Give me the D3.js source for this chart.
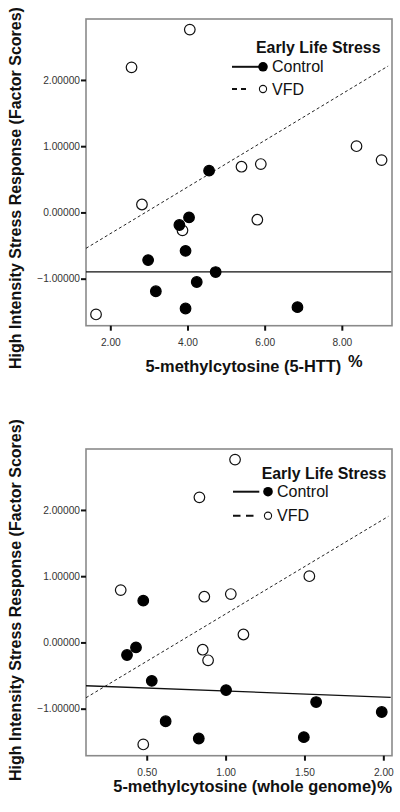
<!DOCTYPE html>
<html>
<head>
<meta charset="utf-8">
<script src="https://cdn.jsdelivr.net/npm/d3@7/dist/d3.min.js"></script>
<style>
  html, body { margin: 0; padding: 0; background: #fff; }
  svg { display: block; font-family: "Liberation Sans", Arial, sans-serif; }
</style>
</head>
<body>
<svg id="chart" width="400" height="812"></svg>
<script>
// ---------- DATA ----------
const groups = ["Control", "VFD"];
const legendTitle = "Early Life Stress";
const yAxisTitle = "High Intensity Stress Response (Factor Scores)";
const yTicks = [-1, 0, 1, 2];

// Factor scores (same subjects in both panels)
const controlScores = [0.63, -0.075, -0.19, -0.58, -0.72, -0.90, -1.05, -1.19, -1.45, -1.43];
const vfdScores     = [2.76, 2.19, 0.69, 0.73, 1.00, 0.79, 0.12, -0.27, -0.11, -1.54];

// Panel 1: 5-HTT methylation (%)
const controlHTT = [4.56, 4.04, 3.79, 3.95, 2.98, 4.73, 4.24, 3.18, 3.95, 6.85];
const vfdHTT     = [4.06, 2.55, 5.40, 5.90, 8.38, 9.03, 2.82, 3.87, 5.81, 1.63];
const httTicks = [2, 4, 6, 8];
const httTitle = "5-methylcytosine (5-HTT)";
// fit lines [x1, y1, x2, y2]
const httControlFit = [1.37, -0.897, 9.28, -0.897];
const httVfdFit     = [1.37, -0.542, 9.20, 2.21];

// Panel 2: whole genome methylation (%)
const controlGenome = [0.478, 0.432, 0.375, 0.532, 1.003, 1.574, 1.99, 0.62, 0.83, 1.496];
const vfdGenome     = [1.06, 0.834, 0.865, 1.033, 1.531, 0.335, 1.113, 0.889, 0.855, 0.478];
const genomeTicks = [0.5, 1.0, 1.5, 2.0];
const genomeTitle = "5-methylcytosine (whole genome)";
const genomeControlFit = [0.115, -0.654, 2.047, -0.829];
const genomeVfdFit     = [0.115, -0.835, 2.032, 1.903];

const yDomain = [-1.71, 2.92];

// ---------- DRAW ----------
const svg = d3.select("#chart");

function panel(cfg) {
  const g = svg.append("g");
  const x = d3.scaleLinear().domain(cfg.xDomain).range([cfg.left, cfg.right]);
  const y = d3.scaleLinear().domain(yDomain).range([cfg.bottom, cfg.top]);

  // frame
  g.append("rect")
    .attr("x", cfg.left).attr("y", cfg.top)
    .attr("width", cfg.right - cfg.left).attr("height", cfg.bottom - cfg.top)
    .attr("fill", "none").attr("stroke", "#8a8a8a").attr("stroke-width", 1.6);

  // y axis
  const yAxis = d3.axisLeft(y).tickValues(yTicks).tickSize(5).tickPadding(1)
    .tickFormat(d3.format(".5f"));
  const ya = g.append("g").attr("transform", `translate(${cfg.left},0)`).call(yAxis);
  ya.select(".domain").remove();
  ya.selectAll(".tick line").attr("stroke", "#111").attr("stroke-width", 2);
  ya.selectAll(".tick text").attr("font-size", 10.2).attr("fill", "#333")
    .attr("font-family", "Liberation Sans, Arial, sans-serif");

  // x axis
  const xAxis = d3.axisBottom(x).tickValues(cfg.xTicks).tickSize(5).tickPadding(8)
    .tickFormat(d3.format(".2f"));
  const xa = g.append("g").attr("transform", `translate(0,${cfg.bottom})`).call(xAxis);
  xa.select(".domain").remove();
  xa.selectAll(".tick line").attr("stroke", "#111").attr("stroke-width", 2);
  xa.selectAll(".tick text").attr("font-size", 10.2).attr("fill", "#333")
    .attr("font-family", "Liberation Sans, Arial, sans-serif");

  // fit lines
  const clip = "clip" + cfg.id;
  g.append("clipPath").attr("id", clip).append("rect")
    .attr("x", cfg.left).attr("y", cfg.top)
    .attr("width", cfg.right - cfg.left).attr("height", cfg.bottom - cfg.top);
  const lineG = g.append("g").attr("clip-path", `url(#${clip})`);
  lineG.append("line")
    .attr("x1", x(cfg.controlFit[0])).attr("y1", y(cfg.controlFit[1]))
    .attr("x2", x(cfg.controlFit[2])).attr("y2", y(cfg.controlFit[3]))
    .attr("stroke", "#111").attr("stroke-width", 1.3);
  lineG.append("line")
    .attr("x1", x(cfg.vfdFit[0])).attr("y1", y(cfg.vfdFit[1]))
    .attr("x2", x(cfg.vfdFit[2])).attr("y2", y(cfg.vfdFit[3]))
    .attr("stroke", "#222").attr("stroke-width", 1).attr("stroke-dasharray", "3,2.5");

  // points
  const ctrl = cfg.controlX.map((v, i) => ({x: v, y: controlScores[i]}));
  const vfd = cfg.vfdX.map((v, i) => ({x: v, y: vfdScores[i]}));
  g.append("g").selectAll("circle").data(vfd).join("circle")
    .attr("cx", d => x(d.x)).attr("cy", d => y(d.y)).attr("r", 5.3)
    .attr("fill", "#fff").attr("stroke", "#111").attr("stroke-width", 1.2);
  g.append("g").selectAll("circle").data(ctrl).join("circle")
    .attr("cx", d => x(d.x)).attr("cy", d => y(d.y)).attr("r", 5.3)
    .attr("fill", "#000").attr("stroke", "#000").attr("stroke-width", 1.2);

  // legend
  const L = cfg.legend;
  g.append("text").attr("x", L.titleX).attr("y", L.titleY)
    .attr("font-size", 15.9).attr("font-weight", "bold").attr("fill", "#111")
    .text(legendTitle);
  // Control
  g.append("line").attr("x1", L.lineX1).attr("x2", L.lineX2).attr("y1", L.row1Y).attr("y2", L.row1Y)
    .attr("stroke", "#111").attr("stroke-width", 2);
  g.append("circle").attr("cx", L.circX).attr("cy", L.row1Y).attr("r", 4.8).attr("fill", "#000");
  g.append("text").attr("x", L.textX).attr("y", L.row1Y + 5.6)
    .attr("font-size", 16).attr("fill", "#111").text(groups[0]);
  // VFD
  g.append("line").attr("x1", L.lineX1).attr("x2", L.dashX2).attr("y1", L.row2Y).attr("y2", L.row2Y)
    .attr("stroke", "#111").attr("stroke-width", 2).attr("stroke-dasharray", L.dash);
  g.append("circle").attr("cx", L.circX).attr("cy", L.row2Y).attr("r", 3.6)
    .attr("fill", "#fff").attr("stroke", "#111").attr("stroke-width", 1.1);
  g.append("text").attr("x", L.textX).attr("y", L.row2Y + 5.6)
    .attr("font-size", 16).attr("fill", "#111").text(groups[1]);

  // x title
  const xt = g.append("text").attr("x", cfg.xTitleX).attr("y", cfg.xTitleY)
    .attr("font-size", 16.4).attr("font-weight", "bold").attr("fill", "#111")
    .text(cfg.xTitle);
  const pctX = cfg.pctX != null ? cfg.pctX : cfg.xTitleX + xt.node().getComputedTextLength() + 0.5;
  g.append("text").attr("x", pctX).attr("y", cfg.pctY)
    .attr("font-size", cfg.pctSize).attr("font-weight", "bold").attr("fill", "#111")
    .text("%");

  // y title
  g.append("text")
    .attr("transform", `translate(20.5,${cfg.yTitleCY}) rotate(-90)`)
    .attr("text-anchor", "middle")
    .attr("font-size", 16).attr("font-weight", "bold").attr("fill", "#111")
    .text(yAxisTitle);
}

panel({
  id: 1, left: 86, right: 392, top: 19, bottom: 325.7,
  xDomain: [1.37, 9.30], xTicks: httTicks,
  controlX: controlHTT, vfdX: vfdHTT,
  controlFit: httControlFit, vfdFit: httVfdFit,
  legend: {titleX: 256, titleY: 53.3, lineX1: 232, lineX2: 260, dashX2: 247, dash: "5,4",
           circX: 263, textX: 272, row1Y: 66.8, row2Y: 89},
  xTitle: httTitle, xTitleX: 145.5, xTitleY: 371.7, pctX: 348, pctY: 366.5, pctSize: 16.4,
  yTitleCY: 188
});

panel({
  id: 2, left: 86, right: 392, top: 449, bottom: 755.7,
  xDomain: [0.115, 2.055], xTicks: genomeTicks,
  controlX: controlGenome, vfdX: vfdGenome,
  controlFit: genomeControlFit, vfdFit: genomeVfdFit,
  legend: {titleX: 261.7, titleY: 479, lineX1: 233, lineX2: 259.3, dashX2: 254, dash: "7.5,5.5",
           circX: 268, textX: 277, row1Y: 491.7, row2Y: 515.7},
  xTitle: genomeTitle, xTitleX: 113.3, xTitleY: 791.7, pctX: null, pctY: 792.5, pctSize: 17,
  yTitleCY: 600
});
</script>
</body>
</html>
